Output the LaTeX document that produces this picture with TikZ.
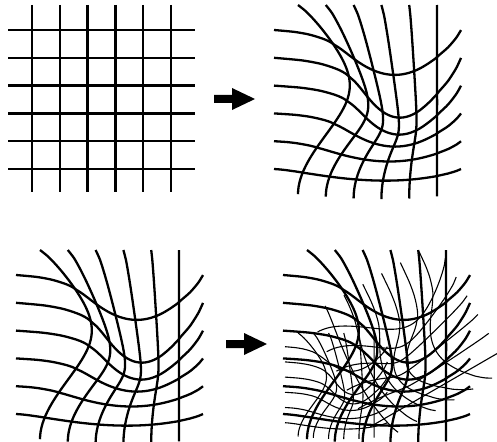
\documentclass[tikz,border=0pt]{standalone}
\usepackage{tikz}

\tikzset{
  declare function={
    hh(\x)=6.75*\x*(1-\x)*(1-\x);
    kk(\x)=4.016*max(\x,0.0001)^1.2*max(1-\x,0.0001)^0.85;
    mx(\x)=70*max(1-\x/164,0.0001)^1.3*(1-exp(-\x/10));
    qy(\y)=(max(\y,0.01)/50)^1.5*exp(1.5*(1-\y/50));
    wx(\x,\y)=\x+mx(\x)*hh(\y/187);
    wy(\x,\y)=\y+60*qy(\y)*kk(\x/187);
  },
  bold line/.style={line width=2.3pt},
  thin line/.style={line width=1.1pt},
}

% one deformed grid, in panel units (0..187)
\newcommand{\warpgrid}[1]{%
  \foreach \cx in {24,51.8,79.6,107.4,135.2,163}
    \draw[#1] plot[variable=\s,domain=0:187,samples=45,smooth] ({wx(\cx,\s)},{wy(\cx,\s)});
  \foreach \ry in {25,52.8,80.6,108.4,136.2,164}
    \draw[#1] plot[variable=\s,domain=0:187,samples=45,smooth] ({wx(\s,\ry)},{wy(\s,\ry)});
}
% block arrow, tail at (#1,#2)
\newcommand{\blockarrow}[2]{%
  \fill (#1,#2-4) -- ++(18,0) -- ++(0,-7) -- ++(23,11) -- ++(-23,11) -- ++(0,-7) -- ++(-18,0) -- cycle;
}

\begin{document}
\begin{tikzpicture}[x=1pt,y=-1pt]
    \useasboundingbox (0,0) rectangle (497,441);
    % regular grid
    \begin{scope}[shift={(8,5)}]
        \foreach \cx in {24,51.8,79.6,107.4,135.2,163}
            \draw[bold line] (\cx,0) -- (\cx,187);
        \foreach \ry in {25,52.8,80.6,108.4,136.2,164}
            \draw[bold line] (0,\ry) -- (187,\ry);
    \end{scope}
    \blockarrow{214}{99}
    % deformed grid
    \begin{scope}[shift={(274,5)}]
        \warpgrid{bold line}
    \end{scope}
    % same grid again
    \begin{scope}[shift={(16,250)}]
        \warpgrid{bold line}
    \end{scope}
    \blockarrow{226}{344}
    % grid with further copies on top
    \begin{scope}[shift={(283,250)}]
        \warpgrid{bold line}
        \begin{scope}[shift={(2,83)},scale=0.547]
            \warpgrid{thin line}
        \end{scope}
        \begin{scope}[shift={(153,-8)},rotate=-60,scale=0.78]
            \warpgrid{thin line}
        \end{scope}
    \end{scope}
\end{tikzpicture}
\end{document}
